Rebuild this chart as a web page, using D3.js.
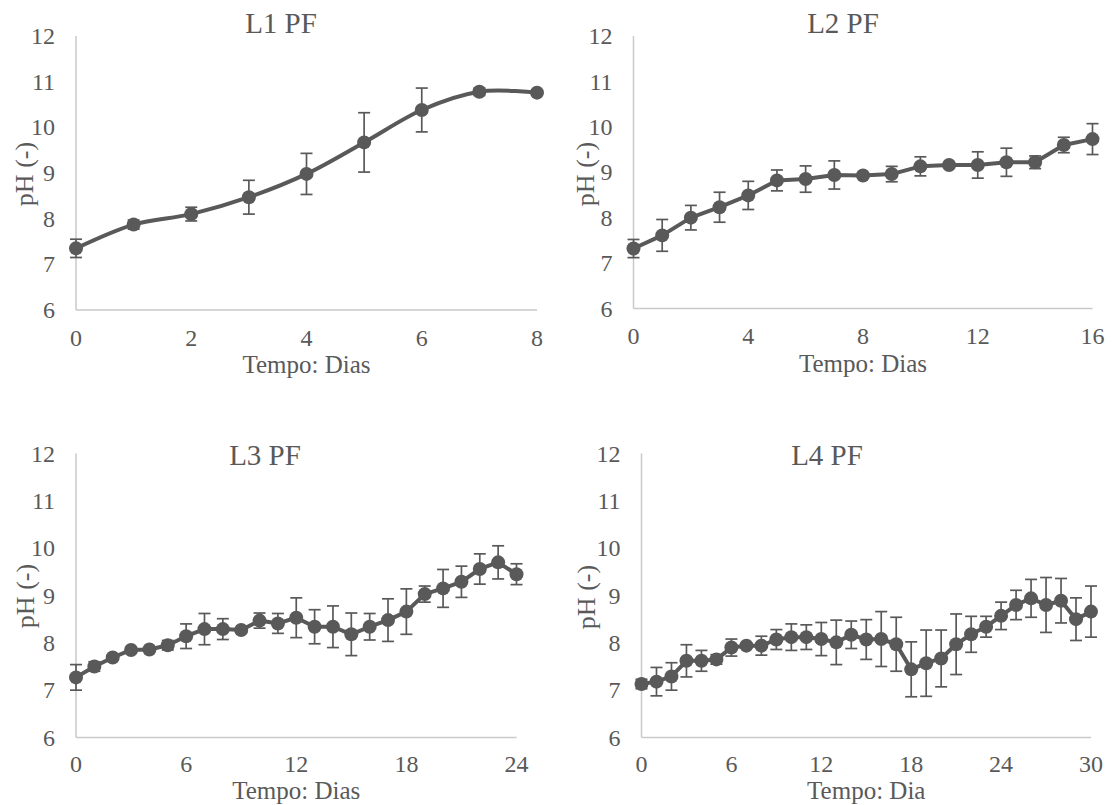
<!DOCTYPE html>
<html><head><meta charset="utf-8">
<script src="https://cdn.jsdelivr.net/npm/d3@7"></script>
<style>body{margin:0;background:#fff}svg{display:block}</style>
</head><body>
<script>
// ---- data ----
const yTicks = [6,7,8,9,10,11,12];

const l1Days = [0,1,2,3,4,5,6,7,8];
const l1pH   = [7.35,7.87,8.10,8.47,8.98,9.67,10.38,10.78,10.76];
const l1Err  = [0.20,0.10,0.15,0.37,0.45,0.65,0.48,0.08,0.06];
const l1XTicks = [0,2,4,6,8];

const l2Days = [0,1,2,3,4,5,6,7,8,9,10,11,12,13,14,15,16];
const l2pH   = [7.32,7.61,8.00,8.23,8.49,8.82,8.85,8.94,8.93,8.96,9.13,9.16,9.16,9.22,9.22,9.60,9.73];
const l2Err  = [0.20,0.35,0.27,0.33,0.31,0.23,0.29,0.31,0.03,0.17,0.21,0.03,0.29,0.31,0.14,0.17,0.34];
const l2XTicks = [0,4,8,12,16];

const l3Days = [0,1,2,3,4,5,6,7,8,9,10,11,12,13,14,15,16,17,18,19,20,21,22,23,24];
const l3pH   = [7.27,7.50,7.69,7.85,7.86,7.95,8.14,8.29,8.29,8.27,8.47,8.41,8.53,8.34,8.34,8.18,8.34,8.48,8.66,9.03,9.15,9.29,9.56,9.70,9.45];
const l3Err  = [0.27,0.10,0.05,0.03,0.03,0.10,0.26,0.33,0.22,0.05,0.16,0.21,0.42,0.36,0.44,0.45,0.28,0.45,0.48,0.17,0.40,0.33,0.32,0.35,0.22];
const l3XTicks = [0,6,12,18,24];

const l4Days = [0,1,2,3,4,5,6,7,8,9,10,11,12,13,14,15,16,17,18,19,20,21,22,23,24,25,26,27,28,29,30];
const l4pH   = [7.13,7.18,7.29,7.62,7.62,7.65,7.90,7.94,7.94,8.07,8.12,8.12,8.08,8.01,8.17,8.07,8.08,7.97,7.44,7.57,7.67,7.97,8.18,8.34,8.57,8.80,8.94,8.80,8.89,8.50,8.66];
const l4Err  = [0.10,0.30,0.29,0.34,0.22,0.10,0.18,0.05,0.20,0.21,0.28,0.26,0.35,0.47,0.29,0.42,0.58,0.57,0.58,0.70,0.60,0.64,0.38,0.22,0.29,0.31,0.40,0.58,0.47,0.45,0.54];
const l4XTicks = [0,6,12,18,24,30];

// ---- layout ----
const panels = [
  {title:"L1 PF", xlabel:"Tempo: Dias", days:l1Days, ph:l1pH, err:l1Err, xt:l1XTicks, xmax:8, smooth:true,
   x0:76, x1:537, y0:36, y1:310, titleX:281, titleY:33, ylabX:24, ylabY:174, tickY:345.5, xlabY:373},
  {title:"L2 PF", xlabel:"Tempo: Dias", days:l2Days, ph:l2pH, err:l2Err, xt:l2XTicks, xmax:16, smooth:false,
   x0:633.5, x1:1092.5, y0:36, y1:308.5, titleX:843, titleY:33, ylabX:585, ylabY:174, tickY:344, xlabY:372},
  {title:"L3 PF", xlabel:"Tempo: Dias", days:l3Days, ph:l3pH, err:l3Err, xt:l3XTicks, xmax:24, smooth:false,
   x0:76, x1:516.5, y0:453.5, y1:737.5, titleX:265, titleY:464.5, ylabX:25, ylabY:596, tickY:771.5, xlabY:799},
  {title:"L4 PF", xlabel:"Tempo: Dia", days:l4Days, ph:l4pH, err:l4Err, xt:l4XTicks, xmax:30, smooth:false,
   x0:641.5, x1:1091, y0:453.5, y1:737.5, titleX:827, titleY:464.5, ylabX:586, ylabY:597, tickY:771.5, xlabY:799}
];

const W = 1112, H = 805;
const txt = "#595959", ink = "#595959", axisCol = "#c9c9c9";
const font = "'Liberation Serif','Times New Roman',serif";

const svg = d3.select("body").append("svg").attr("width", W).attr("height", H)
  .style("font-family", font);

panels.forEach(p => {
  const x = d3.scaleLinear().domain([0, p.xmax]).range([p.x0, p.x1]);
  const y = d3.scaleLinear().domain([6, 12]).range([p.y1, p.y0]);
  const g = svg.append("g");

  // axis lines
  g.append("line").attr("x1", x(0)).attr("x2", x(0)).attr("y1", y(12)).attr("y2", y(6))
    .attr("stroke", axisCol).attr("stroke-width", 1.5);
  g.append("line").attr("x1", x(0)).attr("x2", x(p.xmax)).attr("y1", y(6)).attr("y2", y(6))
    .attr("stroke", axisCol).attr("stroke-width", 1.5);

  // y tick labels
  g.selectAll(".yt").data(yTicks).enter().append("text")
    .attr("x", x(0) - 21).attr("y", d => y(d)).attr("dy", "0.34em")
    .attr("text-anchor", "end").attr("fill", txt).attr("font-size", 24).text(d => d);

  // x tick labels
  g.selectAll(".xt").data(p.xt).enter().append("text")
    .attr("x", d => x(d)).attr("y", p.tickY)
    .attr("text-anchor", "middle").attr("fill", txt).attr("font-size", 24).text(d => d);

  // chart title
  g.append("text").attr("x", p.titleX).attr("y", p.titleY)
    .attr("text-anchor", "middle").attr("fill", txt).attr("font-size", 29).text(p.title);
  // x axis title
  g.append("text").attr("x", (p.x0 + p.x1) / 2).attr("y", p.xlabY)
    .attr("text-anchor", "middle").attr("fill", txt).attr("font-size", 25).text(p.xlabel);
  // y axis title
  g.append("text").attr("transform", `translate(${p.ylabX},${p.ylabY}) rotate(-90)`)
    .attr("dy", "0.35em").attr("text-anchor", "middle").attr("fill", txt).attr("font-size", 26).text("pH (-)");

  const data = p.days.map((d, i) => ({d, v: p.ph[i], e: p.err[i]}));

  // error bars
  const eb = g.selectAll(".eb").data(data).enter().append("g").attr("stroke", ink).attr("stroke-width", 1.7);
  eb.append("line").attr("x1", d => x(d.d)).attr("x2", d => x(d.d))
    .attr("y1", d => y(d.v + d.e)).attr("y2", d => y(d.v - d.e));
  eb.append("line").attr("x1", d => x(d.d) - 6).attr("x2", d => x(d.d) + 6)
    .attr("y1", d => y(d.v + d.e)).attr("y2", d => y(d.v + d.e));
  eb.append("line").attr("x1", d => x(d.d) - 6).attr("x2", d => x(d.d) + 6)
    .attr("y1", d => y(d.v - d.e)).attr("y2", d => y(d.v - d.e));

  // line
  const line = d3.line().x(d => x(d.d)).y(d => y(d.v))
    .curve(p.smooth ? d3.curveCardinal.tension(0) : d3.curveLinear);
  g.append("path").datum(data).attr("d", line).attr("fill", "none")
    .attr("stroke", ink).attr("stroke-width", 4).attr("stroke-linejoin", "round");

  // markers
  g.selectAll(".m").data(data).enter().append("circle")
    .attr("cx", d => x(d.d)).attr("cy", d => y(d.v)).attr("r", 7).attr("fill", ink);
});
</script>
</body></html>
